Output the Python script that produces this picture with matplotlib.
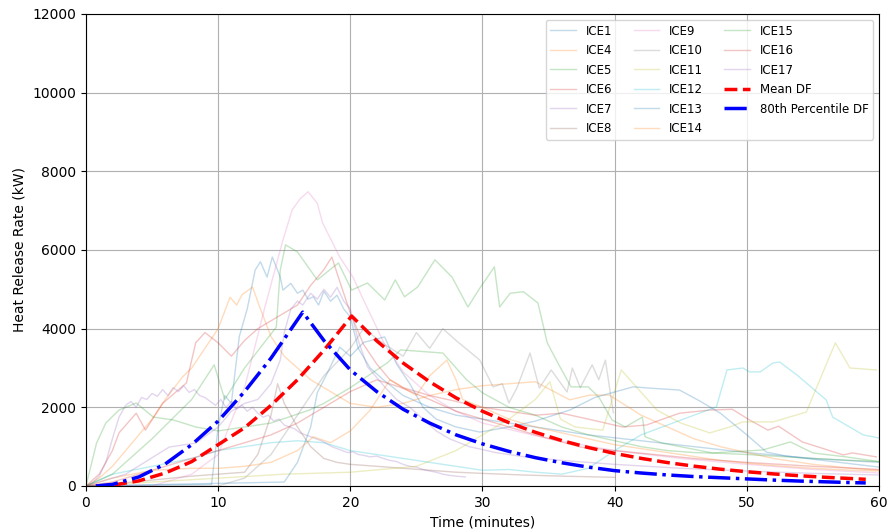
import matplotlib
matplotlib.use("Agg")
import matplotlib.pyplot as plt

# Measured heat release rate curves (time in minutes, HRR in kW)
ice1 = [(0, 0), (9.5, 40), (10, 1500), (10.5, 2300), (11, 2100), (11.6, 3800), (12.2, 4500),
        (12.8, 5490), (13.2, 5700), (13.7, 5310), (14.1, 5820), (14.7, 5310), (14.9, 4980),
        (15.5, 5150), (16, 4900), (16.4, 4980), (16.8, 4750), (17.2, 4810), (17.6, 4600),
        (18, 4950), (18.5, 4700), (19, 4850), (19.5, 4500), (20, 4300), (20.6, 3500),
        (21.5, 3000), (22.5, 2700), (24, 2300), (26, 2000), (28, 1800), (30, 1700),
        (34, 1500), (38, 1300), (42, 1150), (46, 1000), (50, 850), (55, 700), (60, 600)]
ice4 = [(0, 0), (1, 200), (2, 500), (3, 900), (4, 1300), (5, 1700), (6, 2200), (7.3, 2770),
        (8, 3000), (9, 3500), (10, 4000), (10.9, 4800), (11.4, 4600), (11.8, 4860), (12.6, 5060),
        (13.2, 4500), (14, 3800), (15, 3300), (16, 3000), (17, 2700), (18, 2500), (19, 2300),
        (20, 2100), (22, 2000), (24, 2100), (26, 2300), (28, 2450), (30, 2550), (32, 2600),
        (34, 2650), (36.6, 2190), (38.1, 2310), (39.6, 2310), (42, 1800), (44, 1500),
        (46, 1200), (48, 1000), (50, 850), (52, 700), (55, 550), (58, 450), (60, 400)]
ice5 = [(0, 0), (0.8, 1090), (1.5, 1600), (2.5, 1930), (3.8, 2110), (5.1, 1750), (6.6, 1680),
        (8.3, 1500), (10, 1400), (12, 1500), (14, 1600), (16.9, 1930), (18, 2100), (20, 2500),
        (22.8, 3130), (23.8, 3460), (27, 3380), (28.8, 2700), (30, 2370), (32, 2000),
        (34, 1800), (36, 1500), (38, 1300), (40, 1150), (42, 1000), (44, 900), (46, 850),
        (48, 830), (50, 800), (52, 760), (55, 700), (58, 650), (60, 620)]
ice6 = [(0, 0), (1, 300), (2, 900), (2.5, 1350), (3.8, 1850), (4.5, 1420), (5.8, 2100),
        (7.6, 2620), (8.3, 3640), (9, 3900), (10, 3640), (11, 3300), (12, 3700), (13, 4000),
        (14, 4200), (15, 4400), (16, 4600), (17, 5100), (18, 5500), (18.6, 5820), (19.3, 5100),
        (20, 4400), (21, 3600), (22, 3100), (23, 2700), (24, 2500), (26, 2300), (28, 2150),
        (30, 2000), (32, 1900), (34, 1800), (36, 1850), (38, 1700), (40.6, 1500), (42.4, 1550),
        (44.9, 1850), (47.2, 1930), (48.9, 1950), (50.2, 1680), (51.6, 1420), (52.4, 1520),
        (54.2, 1120), (57.3, 790), (58, 840), (59.8, 740)]
ice7 = [(0, 0), (0.5, 80), (1, 250), (1.5, 600), (2, 1200), (2.5, 1750), (3, 2050), (3.4, 2150),
        (3.8, 2000), (4.2, 2250), (4.6, 2200), (5, 2350), (5.4, 2280), (5.8, 2450), (6.2, 2300),
        (6.6, 2500), (7, 2400), (7.4, 2550), (7.8, 2380), (8.2, 2450), (8.6, 2300), (9, 2250),
        (9.4, 2150), (9.8, 2050), (10.2, 2200), (10.6, 2000), (11, 2150), (11.4, 1950),
        (11.8, 2050), (12.2, 1900), (12.6, 2000), (13, 1850), (13.4, 1750), (13.8, 1800),
        (14.2, 1650), (14.6, 1700), (15, 1550), (15.4, 1500), (15.8, 1450), (16.2, 1350),
        (16.6, 1300), (17, 1250), (17.4, 1200), (17.8, 1150), (18.2, 1080), (18.6, 1000),
        (19, 950), (19.4, 900), (19.8, 850), (20.2, 870), (20.6, 800), (21, 780), (21.5, 740),
        (22, 760), (22.5, 700), (23, 650), (23.5, 620), (24, 550), (24.5, 500), (25, 480),
        (25.5, 420), (26, 380), (26.5, 350), (27, 300), (27.5, 270), (28, 250), (28.7, 230)]
ice8 = [(0, 0), (2, 50), (5, 150), (8, 250), (10, 300), (12, 350), (13, 800), (14, 1800),
        (14.5, 2600), (15, 2100), (16, 1500), (17, 1000), (18, 700), (19, 600), (20, 550),
        (22, 500), (24, 450), (26, 400), (28, 350), (30, 320), (33, 280), (36, 250), (40, 220)]
ice9 = [(0, 0), (5, 0), (8, 300), (10, 800), (12, 2500), (13.5, 4500), (14.9, 6250),
        (15.6, 7020), (16.2, 7300), (16.8, 7480), (17.5, 7190), (17.9, 6690), (19.2, 5820),
        (20.2, 5310), (21, 4730), (22.6, 3600), (24, 2900), (26, 2300), (28, 1900), (30, 1600),
        (35, 1200), (40, 900), (45, 700), (50, 550), (55, 420), (60, 330)]
ice10 = [(0, 0), (10, 0), (12, 200), (14, 800), (16, 1800), (18, 2800), (20, 3500), (21, 4000),
         (22.6, 3600), (24, 3300), (25, 3900), (26, 3500), (27, 4000), (28, 3700), (29.8, 3200),
         (30.8, 2520), (31.5, 2600), (32, 2110), (32.6, 2490), (33.6, 3380), (34.3, 2490),
         (35.2, 2950), (36.4, 2390), (36.8, 3000), (37.4, 2500), (38.3, 3080), (38.8, 2700),
         (39.3, 3200), (39.9, 1860)]
ice11 = [(0, 0), (5, 100), (10, 200), (15, 300), (20, 350), (25, 500), (28, 900), (30, 1300),
         (32, 1700), (34, 2200), (35.1, 2650), (35.9, 1700), (37, 1500), (39.1, 1420),
         (40.5, 2950), (43.2, 1930), (45, 1600), (47.2, 1350), (48.7, 1500), (49.7, 1630),
         (52, 1630), (54.5, 1880), (56.7, 3640), (57.8, 3000), (59.8, 2950)]
ice12 = [(0, 0), (2, 300), (5, 500), (8, 700), (10, 900), (12, 1000), (14, 1100), (16, 1150),
         (18, 1100), (20, 900), (22, 800), (24, 700), (26, 600), (28, 500), (30, 400),
         (32, 420), (34, 350), (36, 300), (38, 450), (40, 900), (42, 1300), (44, 1550),
         (46, 1800), (47.7, 2010), (48.5, 2950), (49.7, 3000), (50.2, 2900), (51, 2900),
         (52, 3130), (52.5, 3150), (53.8, 2820), (56, 2190), (56.5, 1750), (58.8, 1300),
         (60, 1220)]
ice13 = [(0, 0), (15, 100), (16, 600), (17, 1500), (17.5, 2370), (18.3, 2900), (19.2, 3530),
         (20, 3300), (21, 3650), (22.6, 3790), (23.5, 3100), (24.5, 2600), (25.5, 2000),
         (26.5, 1700), (28, 1500), (29.8, 1370), (32, 1500), (34, 1650), (36.6, 1930),
         (38.5, 2250), (41.4, 2520), (43, 2480), (44.9, 2440), (46.5, 2150), (48, 1850),
         (50, 1300), (51.5, 860), (53, 760), (55.5, 660), (58, 560), (60, 480)]
ice14 = [(0, 0), (2, 200), (5, 400), (8, 450), (10, 450), (12, 500), (14, 600), (16, 900),
         (17.2, 1250), (18.5, 1100), (20, 1400), (21.5, 1930), (23, 2700), (24, 2500),
         (25, 2300), (26, 2800), (27.3, 3200), (28, 2700), (28.5, 2200), (30, 2000), (32, 1700),
         (34, 1500), (36, 1350), (38, 1200), (40, 1050), (42, 950), (44, 850), (46, 750),
         (48, 650), (50, 580), (52, 520), (55, 450), (58, 400), (60, 380)]
ice15 = [(0, 0), (2, 300), (5, 1200), (8, 2200), (9.7, 3080), (10.5, 2200), (12, 3000),
         (14.4, 4040), (14.7, 5490), (15.1, 6130), (16, 5950), (17.5, 5240), (19.1, 5670),
         (20.1, 4980), (21.3, 5160), (22.6, 4730), (23.4, 5240), (24.1, 4810), (25.1, 5060),
         (26.4, 5750), (27.7, 5310), (28.9, 4550), (29.7, 4980), (30.9, 5570), (31.3, 4550),
         (32.1, 4900), (33.1, 4940), (34.2, 4650), (34.9, 3640), (35.7, 3130), (36.7, 2520),
         (38, 2520), (38.8, 2260), (39.8, 1680), (40.8, 1500), (42.1, 1750), (42.3, 1250),
         (43.6, 1090), (47.4, 840), (51.2, 915), (53.3, 1120), (55, 840), (57.5, 740),
         (60, 620)]
ice16 = [(0, 0), (2, 100), (4, 300), (6, 500), (8, 700), (10, 900), (12, 1100), (14, 1300),
         (16, 1600), (18, 2000), (20, 2400), (22, 2700), (23.7, 2520), (26, 2200), (28, 1900),
         (30, 1700), (32, 1500), (34, 1300), (37.4, 990), (40, 900), (43, 800), (46, 700),
         (50, 600), (55, 500), (60, 420)]
ice17 = [(0, 0), (3, 300), (5.1, 740), (6.3, 990), (8.3, 1090), (10, 1500), (11, 1900),
         (12, 2100), (13, 2200), (14, 2600), (14.7, 3200), (15, 3900), (15.5, 4500), (16, 4700),
         (16.4, 4600), (17, 4900), (17.5, 4750), (18, 5000), (18.5, 4800), (19, 5050),
         (19.5, 4700), (20, 4500), (20.6, 3700), (21.3, 3030), (22.6, 2520), (23.5, 2200),
         (24.5, 2000), (25.5, 1700), (26.5, 1400), (27.5, 1200), (29, 1000), (31, 850),
         (33, 750), (36, 650), (40, 550), (45, 450), (50, 380), (55, 320), (60, 280)]

ice_labels = ["ICE1", "ICE4", "ICE5", "ICE6", "ICE7", "ICE8", "ICE9", "ICE10", "ICE11",
              "ICE12", "ICE13", "ICE14", "ICE15", "ICE16", "ICE17"]
ice_series = [ice1, ice4, ice5, ice6, ice7, ice8, ice9, ice10, ice11, ice12, ice13, ice14,
              ice15, ice16, ice17]

# Design fire curves
df_time_mean = [0.75, 2, 4, 6, 8, 10, 12, 14, 16, 18, 20.1, 22, 24, 26, 28, 30, 32, 34, 36,
                38, 40, 42, 44, 46, 48, 50, 52, 54, 56, 58, 59]
df_mean = [0, 20, 130, 330, 620, 1050, 1480, 2050, 2700, 3450, 4320, 3690, 3125, 2650, 2240,
           1900, 1610, 1365, 1155, 978, 828, 702, 595, 504, 427, 362, 307, 260, 220, 187, 170]
df_time_p80 = [0.75, 2, 4, 6, 8, 10, 12, 14, 16.4, 18, 20, 22, 24, 26, 28, 30, 32, 34, 36, 38,
               40, 42, 44, 46, 48, 50, 52, 54, 56, 58, 59]
df_p80 = [0, 40, 230, 560, 1050, 1650, 2400, 3250, 4420, 3700, 2950, 2400, 1950, 1600, 1300,
          1070, 880, 720, 590, 480, 390, 330, 280, 240, 210, 180, 150, 125, 105, 85, 78]

fig = plt.figure(figsize=(8.91, 5.32), dpi=100)
ax = fig.add_axes([0.0965, 0.0865, 0.89, 0.8872])

cycle = [f"C{i}" for i in range(10)]
for i, (label, series) in enumerate(zip(ice_labels, ice_series)):
    t, q = zip(*series)
    ax.plot(t, q, color=cycle[i % 10], alpha=0.27, linewidth=1.0, label=label)

ax.plot(df_time_mean, df_mean, color="red", linestyle="--", linewidth=2.5, label="Mean DF")
ax.plot(df_time_p80, df_p80, color="blue", linestyle="-.", linewidth=2.5,
        label="80th Percentile DF")

ax.set_xlim(0, 60)
ax.set_ylim(0, 12000)
ax.set_xlabel("Time (minutes)", fontsize=10)
ax.set_ylabel("Heat Release Rate (kW)", fontsize=10)
ax.grid(True)
ax.legend(ncol=3, loc="upper right", fontsize=8.5, labelspacing=0.55,
          handlelength=2.2, columnspacing=1.8)

fig.savefig("out.png", dpi=100)
